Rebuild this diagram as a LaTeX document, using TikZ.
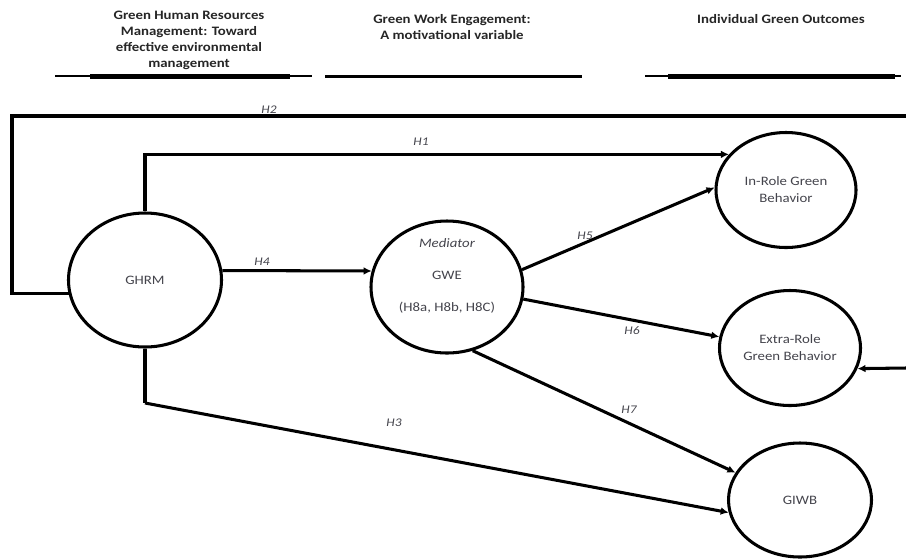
\documentclass[tikz,border=0pt]{standalone}
\usepackage{fontspec}
\setmainfont[FakeStretch=1.15]{Carlito}
\usetikzlibrary{shapes.geometric,arrows.meta}

\definecolor{txtgray}{RGB}{68,68,76}

\tikzset{
  construct/.style={draw,ellipse,line width=2.6pt,inner sep=0pt,text=txtgray,
    font=\fontsize{11}{14.5}\selectfont,align=center},
  link/.style={line width=2.6pt},
  hyp/.style={font=\fontsize{10}{12}\selectfont\itshape,text=txtgray},
  header/.style={font=\fontsize{11}{13.6}\selectfont\bfseries,align=center,text=black!85},
}

\begin{document}
\begin{tikzpicture}[x=0.3mm,y=-0.3mm,>={Latex[length=2.4mm,width=2.3mm]}]
  \useasboundingbox (0,0) rectangle (906,558);

  % column headers
  \node[header] (hdghrm) at (189,40) {Green Human Resources\\Management: Toward\\effective environmental\\management};
  \node[header] (hdgwe) at (452,27) {Green Work Engagement:\\A motivational variable};
  \node[header] (hdout) at (781,19) {Individual Green Outcomes};
  \draw[line width=2.2pt] (55,76) -- (312,76);
  \draw[line width=3.8pt] (90,76.5) -- (290,76.5);
  \draw[line width=3.3pt] (325,76.5) -- (582,76.5);
  \draw[line width=2.2pt] (645,76) -- (901,76);
  \draw[line width=3.8pt] (668,76.5) -- (895,76.5);

  % constructs
  \node[construct,minimum width=45.9mm,minimum height=40.2mm] (ghrm) at (145,280) {GHRM};
  \node[construct,minimum width=45.6mm,minimum height=39.6mm] (gwe) at (447,287) {};
  \node[text=txtgray,align=center,font=\fontsize{11}{27}\selectfont] (gwetext) at (447,276) {\textit{Mediator}\\GWE\\(H8a, H8b, H8C)};
  \node[construct,minimum width=42mm,minimum height=34.5mm] (inrole) at (786,190) {In-Role Green\\Behavior};
  \node[construct,minimum width=42.3mm,minimum height=34.5mm] (extrarole) at (790,348) {Extra-Role\\Green Behavior};
  \node[construct,minimum width=42.9mm,minimum height=34.2mm] (giwb) at (800,500) {GIWB};

  \coordinate (h2turn) at (12,116);
  \coordinate (h2out) at (906,116);
  \coordinate (h2in) at (906,368);
  \coordinate (h3turn) at (145,403);

  % hypotheses
  \draw[link] (ghrm.190) -| (h2turn) -- (h2out);
  \draw[link,->] (h2in) -- (extrarole.-17);
  \draw[link,->] (ghrm.north) |- (inrole.148);
  \draw[link] (ghrm.south) -- (h3turn);
  \draw[link,->] (h3turn) -- (giwb.190);
  \draw[link,->] (ghrm.7) -- (gwe.168);
  \draw[link,->] (gwe.13) -- (inrole.178);
  \draw[link,->] (gwe.-9) -- (extrarole.171);
  \draw[link,->] (gwe.-68) -- (giwb.157);

  \node[hyp] (lh2) at (269,110) {H2};
  \node[hyp] (lh1) at (421,142) {H1};
  \node[hyp] (lh4) at (262,262) {H4};
  \node[hyp] (lh5) at (585,236) {H5};
  \node[hyp] (lh6) at (632,331) {H6};
  \node[hyp] (lh7) at (629,410) {H7};
  \node[hyp] (lh3) at (394,423) {H3};
\end{tikzpicture}
\end{document}
